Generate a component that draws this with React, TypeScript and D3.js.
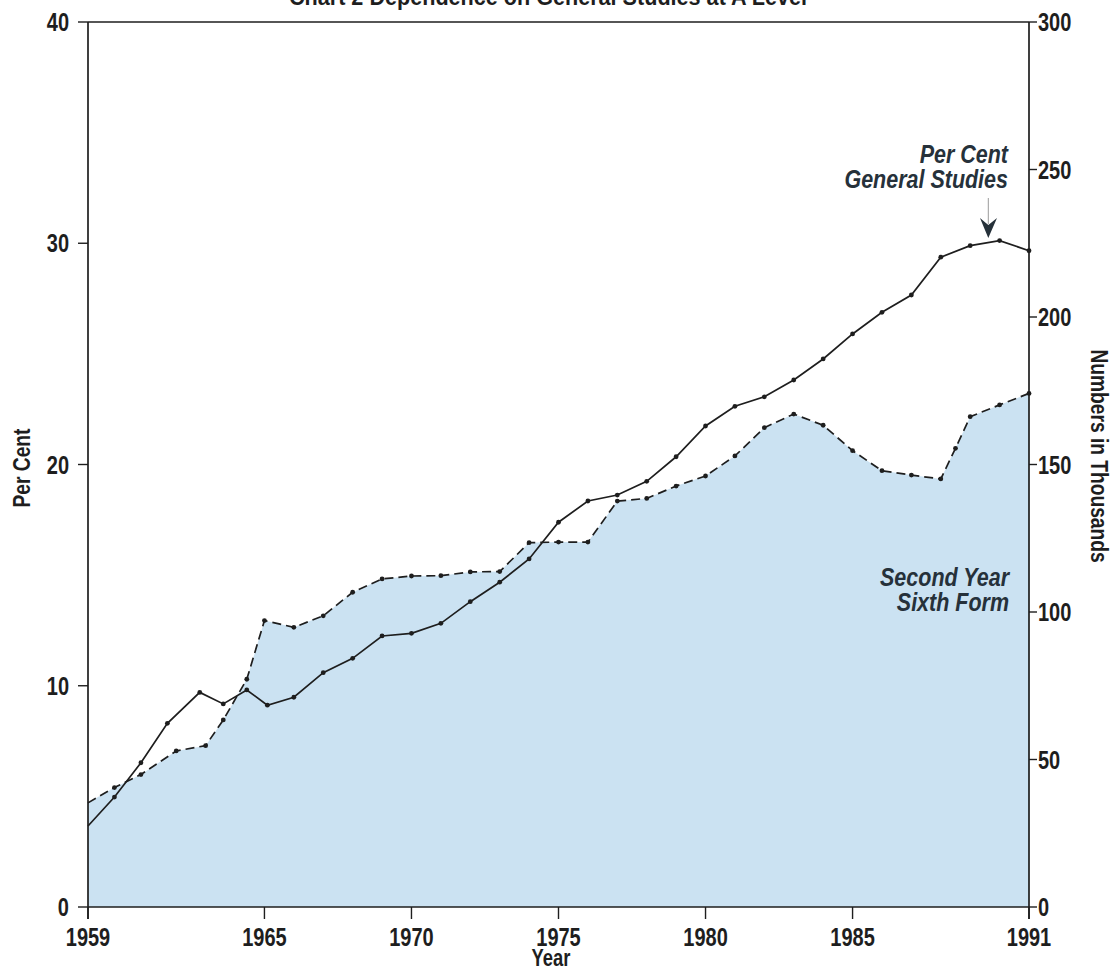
import React from "react";
import * as d3 from "d3";

// Per Cent General Studies (left axis, %)
const pctYears = [1959, 1959.9, 1960.8, 1961.7, 1962.8, 1963.6, 1964.4, 1965.1, 1966, 1967, 1968, 1969, 1970, 1971, 1972, 1973, 1974, 1975, 1976, 1977, 1978, 1979, 1980, 1981, 1982, 1983, 1984, 1985, 1986, 1987, 1988, 1989, 1990, 1991];
const pctValues = [3.66, 4.97, 6.52, 8.3, 9.7, 9.18, 9.81, 9.12, 9.48, 10.59, 11.24, 12.25, 12.37, 12.82, 13.8, 14.68, 15.73, 17.39, 18.35, 18.62, 19.24, 20.35, 21.74, 22.63, 23.06, 23.82, 24.77, 25.9, 26.88, 27.66, 29.37, 29.89, 30.12, 29.66];

// Second Year Sixth Form (right axis, thousands)
const numYears = [1959, 1959.9, 1960.8, 1962, 1963, 1963.6, 1964.4, 1965, 1966, 1967, 1968, 1969, 1970, 1971, 1972, 1973, 1974, 1975, 1976, 1977, 1978, 1979, 1980, 1981, 1982, 1983, 1984, 1985, 1986, 1987, 1988, 1988.5, 1989, 1990, 1991];
const numValues = [35.3, 40.5, 44.9, 52.9, 54.7, 63.4, 77.2, 97.1, 94.8, 98.7, 106.7, 111.2, 112.2, 112.3, 113.6, 113.7, 123.5, 123.7, 123.7, 137.6, 138.5, 142.7, 146.1, 152.9, 162.5, 167.1, 163.3, 154.7, 147.9, 146.4, 145.1, 155.5, 166.2, 170.2, 174.1];

const xTicks = [1959, 1965, 1970, 1975, 1980, 1985, 1991];
const leftTicks = [0, 10, 20, 30, 40];
const rightTicks = [0, 50, 100, 150, 200, 250, 300];

const TITLE = "Chart 2 Dependence on General Studies at A Level";
const FONT = "'Liberation Sans', Arial, sans-serif";

type CTProps = {
  x: number; y: number; size: number; anchor?: "start" | "middle" | "end";
  rotate?: number; sx?: number; italic?: boolean; fill: string; children: React.ReactNode;
};

function CText({ x, y, size, anchor = "start", rotate = 0, sx = 0.8, italic = false, fill, children }: CTProps) {
  return (
    <text
      transform={`translate(${x},${y}) rotate(${rotate}) scale(${sx},1)`}
      textAnchor={anchor}
      style={{ fontFamily: FONT, fontWeight: 700, fontStyle: italic ? "italic" : "normal", fontSize: size, fill }}
    >
      {children}
    </text>
  );
}

export default function App() {
  const W = 1112, H = 971;
  const x0 = 88, x1 = 1029, yTop = 22, yBot = 907;
  const x = d3.scaleLinear().domain([1959, 1991]).range([x0, x1]);
  const yL = d3.scaleLinear().domain([0, 40]).range([yBot, yTop]);
  const yR = d3.scaleLinear().domain([0, 300]).range([yBot, yTop]);

  const pctData = pctYears.map((yr, i) => ({ yr, v: pctValues[i] }));
  const numData = numYears.map((yr, i) => ({ yr, v: numValues[i] }));

  const area = d3.area<{ yr: number; v: number }>().x(d => x(d.yr)).y0(yR(0)).y1(d => yR(d.v));
  const lineNum = d3.line<{ yr: number; v: number }>().x(d => x(d.yr)).y(d => yR(d.v));
  const linePct = d3.line<{ yr: number; v: number }>().x(d => x(d.yr)).y(d => yL(d.v));

  const ink = "#1e1e1e";
  const note = "#26313a";

  return (
    <svg width={W} height={H} style={{ position: "absolute", left: 0, top: 0, background: "#fff" }}>
      <CText x={548} y={5} size={24} anchor="middle" sx={0.9} fill={ink}>{TITLE}</CText>

      <path d={area(numData) || ""} fill="#cbe2f2" />

      {/* frame */}
      <line x1={x0} x2={x1} y1={yTop} y2={yTop} stroke={ink} strokeWidth={1.7} />
      <line x1={x0} x2={x1} y1={yBot} y2={yBot} stroke={ink} strokeWidth={1.7} />
      <line x1={x0} x2={x0} y1={yTop} y2={yBot + 12} stroke={ink} strokeWidth={1.7} />
      <line x1={x1} x2={x1} y1={yTop} y2={yBot + 12} stroke={ink} strokeWidth={1.7} />

      {/* left ticks */}
      {leftTicks.map(t => (
        <g key={"l" + t}>
          <line x1={x0 - 10} x2={x0} y1={yL(t)} y2={yL(t)} stroke={ink} strokeWidth={1.4} />
          <CText x={x0 - 19} y={yL(t) + 9} size={25} anchor="end" fill={ink}>{t}</CText>
        </g>
      ))}
      {/* right ticks */}
      {rightTicks.map(t => (
        <g key={"r" + t}>
          <line x1={x1} x2={x1 + 8} y1={yR(t)} y2={yR(t)} stroke={ink} strokeWidth={1.4} />
          <CText x={x1 + 9} y={yR(t) + 9} size={25} anchor="start" fill={ink}>{t}</CText>
        </g>
      ))}
      {/* x ticks */}
      {xTicks.map(t => (
        <g key={"x" + t}>
          <line x1={x(t)} x2={x(t)} y1={yBot} y2={yBot + 12} stroke={ink} strokeWidth={1.4} />
          <CText x={x(t)} y={946} size={25} anchor="middle" fill={ink}>{t}</CText>
        </g>
      ))}

      <CText x={551} y={966} size={23} anchor="middle" fill={ink}>Year</CText>
      <CText x={30} y={468} size={24} anchor="middle" rotate={-90} fill={ink}>Per Cent</CText>
      <CText x={1091} y={456} size={24} anchor="middle" rotate={90} fill={ink}>Numbers in Thousands</CText>

      {/* dashed series */}
      <path d={lineNum(numData) || ""} fill="none" stroke={ink} strokeWidth={1.7} strokeDasharray="9 5" />
      {numData.slice(1).map((d, i) => (
        <circle key={"n" + i} cx={x(d.yr)} cy={yR(d.v)} r={2.4} fill={ink} />
      ))}

      {/* solid series */}
      <path d={linePct(pctData) || ""} fill="none" stroke={ink} strokeWidth={1.7} />
      {pctData.slice(1).map((d, i) => (
        <circle key={"p" + i} cx={x(d.yr)} cy={yL(d.v)} r={2.4} fill={ink} />
      ))}

      {/* annotations */}
      <CText x={1008} y={163} size={25} anchor="end" italic sx={0.86} fill={note}>Per Cent</CText>
      <CText x={1008} y={188} size={25} anchor="end" italic sx={0.86} fill={note}>General Studies</CText>
      <CText x={1009} y={586} size={25} anchor="end" italic sx={0.86} fill={note}>Second Year</CText>
      <CText x={1009} y={611} size={25} anchor="end" italic sx={0.86} fill={note}>Sixth Form</CText>

      <line x1={988.3} x2={988.3} y1={198} y2={224} stroke="#9a9a9a" strokeWidth={1} />
      <path d="M980,218 L988.3,238 L997,218 L988.3,225 Z" fill={note} />
    </svg>
  );
}
